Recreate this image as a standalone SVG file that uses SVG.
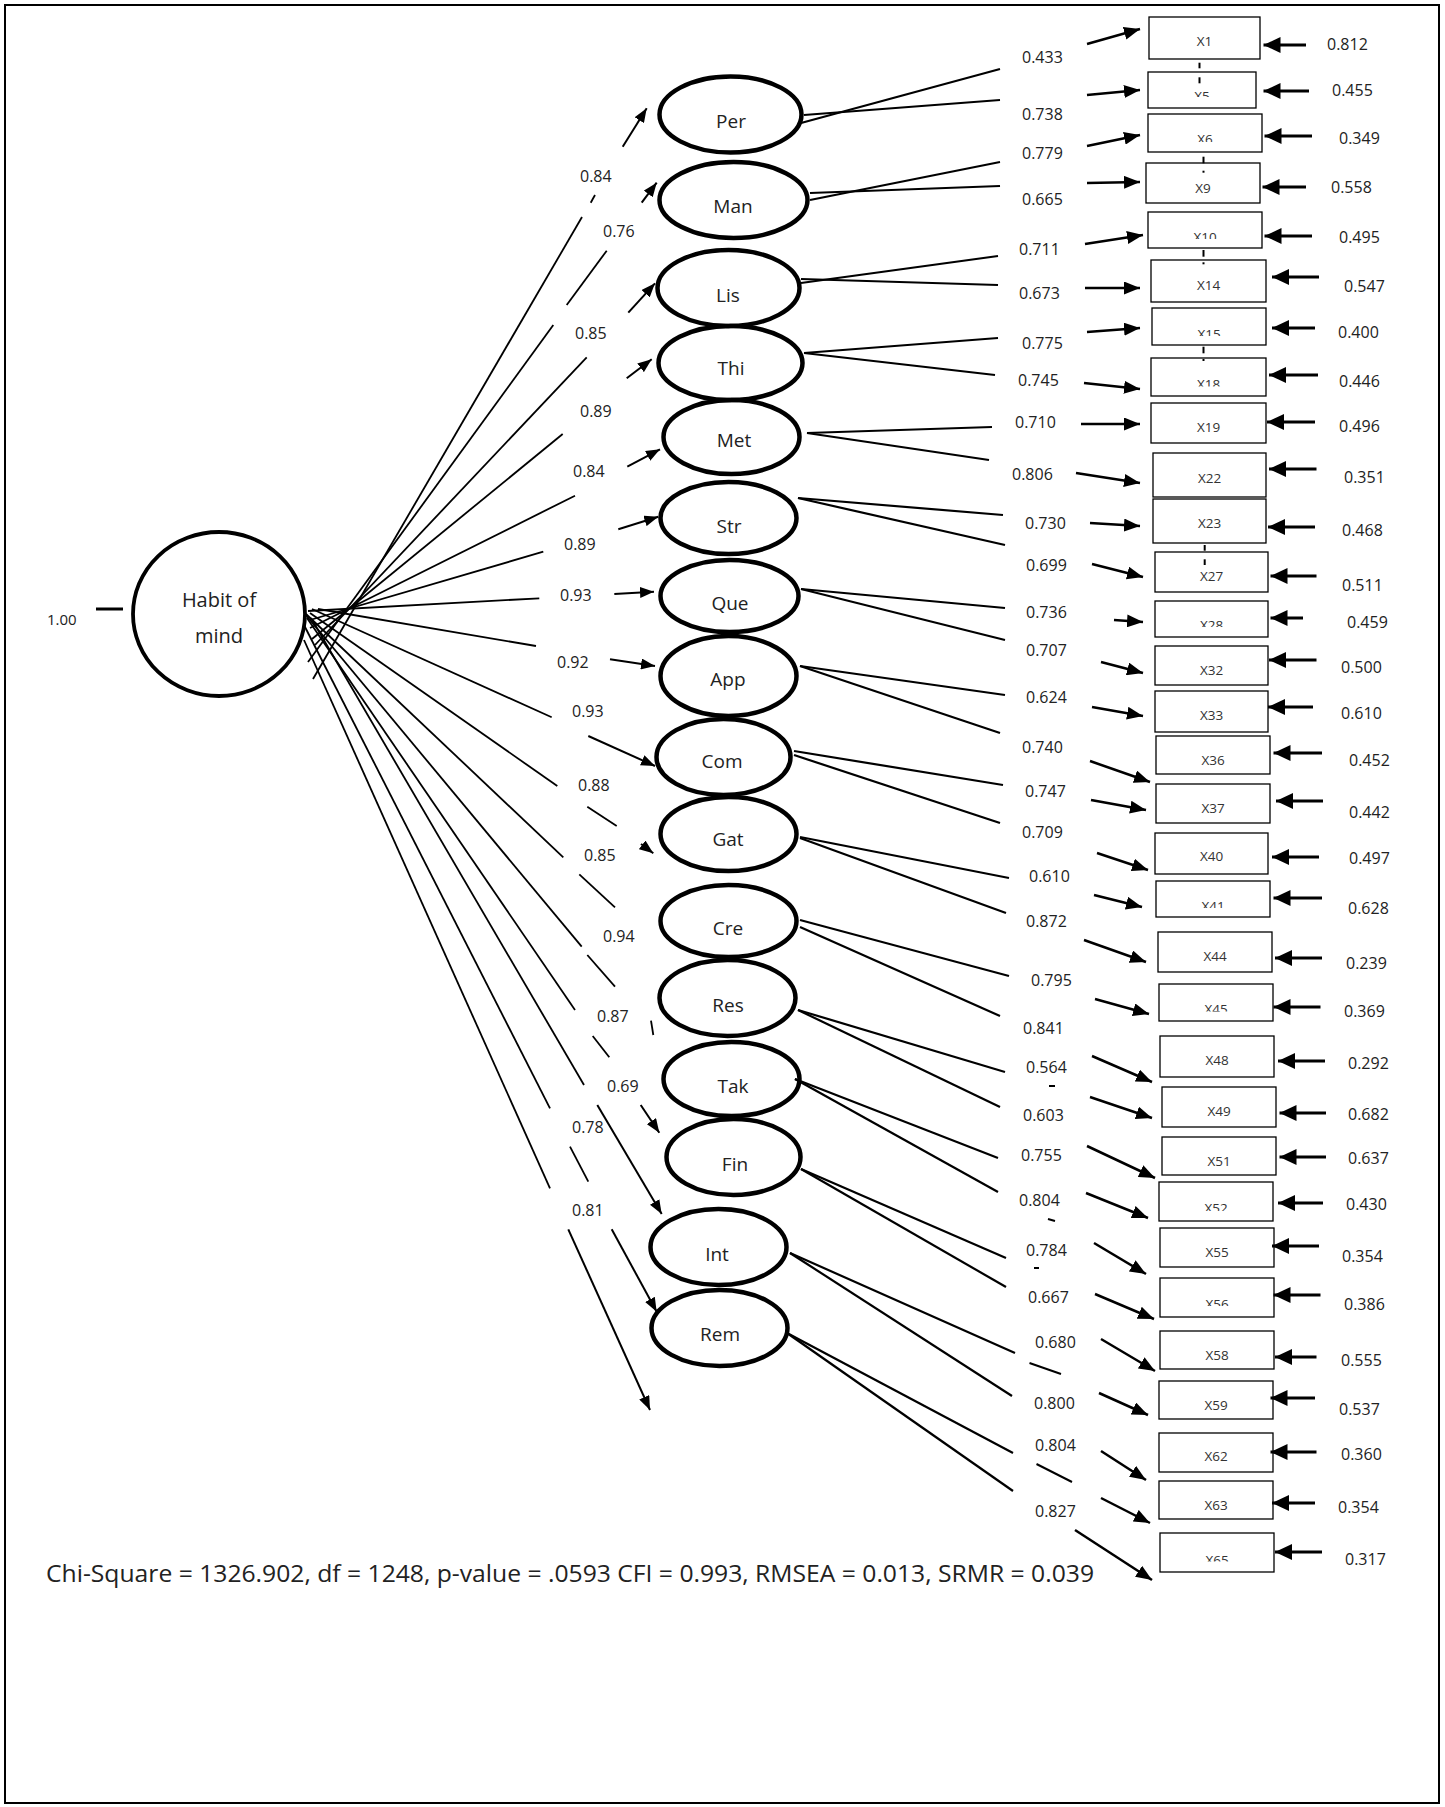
<svg xmlns="http://www.w3.org/2000/svg" width="1445" height="1807" viewBox="0 0 1445 1807">
<style>
text{font-family:"Open Sans","Liberation Sans",sans-serif;fill:#222}
.lat{fill:none;stroke:#000;stroke-width:4.5}
.hab{fill:none;stroke:#000;stroke-width:3.8}
.box{fill:none;stroke:#000;stroke-width:1.3}
.fan{stroke:#000;stroke-width:1.8;fill:none}
.ld{stroke:#000;stroke-width:2.2}
.fa{stroke:#000;stroke-width:2;marker-end:url(#a1)}
.ba{stroke:#000;stroke-width:2.5;marker-end:url(#a2)}
.er{stroke:#000;stroke-width:3;marker-end:url(#a3)}
.dsh{stroke:#000;stroke-width:2}
.ln{font-size:19px;text-anchor:middle}
.bl{font-size:13.5px;text-anchor:middle;fill:#333}
.v{font-size:16px}
</style>
<defs>
<marker id="a1" markerUnits="userSpaceOnUse" markerWidth="14" markerHeight="11" refX="14" refY="5.5" orient="auto"><path d="M0,0 L14,5.5 L0,11 z" fill="#000"/></marker>
<marker id="a2" markerUnits="userSpaceOnUse" markerWidth="16" markerHeight="13" refX="16" refY="6.5" orient="auto"><path d="M0,0 L16,6.5 L0,13 z" fill="#000"/></marker>
<marker id="a3" markerUnits="userSpaceOnUse" markerWidth="17" markerHeight="16" refX="17" refY="8" orient="auto"><path d="M0,0 L17,8 L0,16 z" fill="#000"/></marker>
<clipPath id="c5"><rect x="1148" y="72" width="108" height="25"/></clipPath>
<clipPath id="c6"><rect x="1148" y="114" width="114" height="28"/></clipPath>
<clipPath id="c10"><rect x="1148" y="212" width="114" height="27"/></clipPath>
<clipPath id="c15"><rect x="1152" y="308" width="114" height="28"/></clipPath>
<clipPath id="c18"><rect x="1151" y="358" width="115" height="28.5"/></clipPath>
<clipPath id="c28"><rect x="1155" y="601" width="113" height="26"/></clipPath>
<clipPath id="c41"><rect x="1156" y="881" width="114" height="27"/></clipPath>
<clipPath id="c45"><rect x="1159" y="984" width="114" height="27.5"/></clipPath>
<clipPath id="c52"><rect x="1159" y="1182" width="114" height="29"/></clipPath>
<clipPath id="c56"><rect x="1160" y="1278" width="114" height="28"/></clipPath>
<clipPath id="c65"><rect x="1160" y="1533" width="114" height="28.5"/></clipPath>
</defs>
<rect x="5" y="5" width="1434" height="1798" fill="none" stroke="#000" stroke-width="2"/>

<g id="connectors">
<line class="fan" x1="313" y1="679" x2="582" y2="217"/>
<line class="fan" x1="590.7" y1="202.7" x2="595" y2="195"/>
<line class="fa" x1="622.7" y1="146.7" x2="646.7" y2="108.3"/>
<line class="fan" x1="308" y1="662" x2="553.3" y2="325"/>
<line class="fan" x1="566.7" y1="305" x2="606.7" y2="250.7"/>
<line class="fa" x1="641.7" y1="202.7" x2="656.7" y2="182.7"/>
<line class="fan" x1="315" y1="645" x2="586.7" y2="357.3"/>
<line class="fa" x1="628.3" y1="312.7" x2="655" y2="283.3"/>
<line class="fan" x1="312" y1="639" x2="562.7" y2="434"/>
<line class="fa" x1="626.7" y1="378.3" x2="651.7" y2="359.3"/>
<line class="fan" x1="310" y1="628" x2="575" y2="495.7"/>
<line class="fa" x1="627.3" y1="466.7" x2="660" y2="449.3"/>
<line class="fan" x1="310" y1="620" x2="543.3" y2="551.7"/>
<line class="fa" x1="618.3" y1="529.3" x2="658.3" y2="516.7"/>
<line class="fan" x1="308" y1="611" x2="539.3" y2="598.3"/>
<line class="fa" x1="614.3" y1="594" x2="654" y2="591.7"/>
<line class="fan" x1="318" y1="609" x2="536" y2="646"/>
<line class="fa" x1="610" y1="659.3" x2="655" y2="666"/>
<line class="fan" x1="312" y1="609" x2="551.7" y2="717.3"/>
<line class="fa" x1="588.3" y1="736" x2="655" y2="766"/>
<line class="fan" x1="310" y1="613" x2="557.3" y2="786"/>
<line class="fan" x1="587.3" y1="806.7" x2="616.7" y2="826"/>
<line class="fa" x1="641" y1="844" x2="653.3" y2="853.3"/>
<line class="fan" x1="306" y1="614" x2="563.3" y2="857.3"/>
<line class="fan" x1="579.3" y1="874.3" x2="615" y2="907.3"/>
<line class="fan" x1="305" y1="614" x2="581.7" y2="946.7"/>
<line class="fan" x1="587.3" y1="955" x2="615" y2="986.7"/>
<line class="fan" x1="307" y1="618" x2="575" y2="1010"/>
<line class="fan" x1="592.7" y1="1036" x2="609.3" y2="1057.3"/>
<line class="fa" x1="640.7" y1="1105" x2="659.3" y2="1132.7"/>
<line class="fan" x1="651" y1="1020.7" x2="653.3" y2="1035"/>
<line class="fan" x1="311" y1="618" x2="584" y2="1085"/>
<line class="fa" x1="597.3" y1="1105" x2="661.7" y2="1214"/>
<line class="fan" x1="304" y1="625" x2="550" y2="1108.3"/>
<line class="fan" x1="570" y1="1146.7" x2="588.3" y2="1181.7"/>
<line class="fa" x1="611.7" y1="1229.3" x2="656.7" y2="1311.7"/>
<line class="fan" x1="304" y1="640" x2="550" y2="1188.3"/>
<line class="fa" x1="568.3" y1="1229.3" x2="650" y2="1410"/>
<line x1="96" y1="609" x2="123" y2="609" stroke="#000" stroke-width="3"/>
<line class="ld" x1="801" y1="123" x2="1000" y2="69"/>
<line class="ld" x1="804" y1="115" x2="1000" y2="100"/>
<line class="ld" x1="810" y1="200" x2="1000" y2="162"/>
<line class="ld" x1="810" y1="193" x2="1000" y2="186"/>
<line class="ld" x1="801" y1="283" x2="998" y2="256"/>
<line class="ld" x1="801" y1="279" x2="998" y2="285"/>
<line class="ld" x1="804" y1="353" x2="998" y2="338"/>
<line class="ld" x1="804" y1="353" x2="995" y2="375"/>
<line class="ld" x1="807" y1="433" x2="992" y2="427"/>
<line class="ld" x1="807" y1="433" x2="989" y2="460"/>
<line class="ld" x1="798" y1="498" x2="1003" y2="515"/>
<line class="ld" x1="798" y1="498" x2="1005" y2="545"/>
<line class="ld" x1="801" y1="589" x2="1005" y2="608"/>
<line class="ld" x1="801" y1="589" x2="1005" y2="640"/>
<line class="ld" x1="800" y1="666" x2="1005" y2="695"/>
<line class="ld" x1="800" y1="666" x2="1000" y2="733"/>
<line class="ld" x1="794" y1="751" x2="1003" y2="785"/>
<line class="ld" x1="794" y1="755" x2="1000" y2="823"/>
<line class="ld" x1="800" y1="837" x2="1009" y2="878"/>
<line class="ld" x1="800" y1="838" x2="1006" y2="913"/>
<line class="ld" x1="800" y1="920" x2="1009" y2="976"/>
<line class="ld" x1="800" y1="927" x2="1000" y2="1016"/>
<line class="ld" x1="798" y1="1010" x2="1005" y2="1072"/>
<line class="ld" x1="798" y1="1010" x2="1000" y2="1107"/>
<line class="ld" x1="795" y1="1079" x2="998" y2="1158"/>
<line class="ld" x1="795" y1="1079" x2="998" y2="1192"/>
<line class="ld" x1="801" y1="1169" x2="1006" y2="1258"/>
<line class="ld" x1="801" y1="1169" x2="1006" y2="1287"/>
<line class="ld" x1="790" y1="1253" x2="1015" y2="1353"/>
<line class="ld" x1="790" y1="1253" x2="1012" y2="1396"/>
<line class="ld" x1="787" y1="1333" x2="1013" y2="1453"/>
<line class="ld" x1="787" y1="1333" x2="1013" y2="1491"/>
<line class="dsh" x1="1049" y1="1086" x2="1055" y2="1086"/>
<line class="dsh" x1="1048" y1="1219" x2="1055" y2="1221"/>
<line class="dsh" x1="1034" y1="1268" x2="1039" y2="1268"/>
<line class="dsh" x1="1029.5" y1="1363" x2="1061" y2="1374"/>
<line class="dsh" x1="1036.5" y1="1464" x2="1072" y2="1482"/>
<line class="ba" x1="1087" y1="44" x2="1140" y2="29"/>
<line class="ba" x1="1087" y1="95" x2="1140" y2="90"/>
<line class="ba" x1="1087" y1="146" x2="1140" y2="135"/>
<line class="ba" x1="1087" y1="183" x2="1140" y2="182"/>
<line class="ba" x1="1085" y1="244" x2="1143" y2="235"/>
<line class="ba" x1="1085" y1="288" x2="1140" y2="288"/>
<line class="ba" x1="1087" y1="332" x2="1140" y2="328"/>
<line class="ba" x1="1084" y1="383" x2="1140" y2="389"/>
<line class="ba" x1="1081" y1="424" x2="1140" y2="424"/>
<line class="ba" x1="1076" y1="473" x2="1140" y2="483"/>
<line class="ba" x1="1090" y1="523" x2="1140" y2="526"/>
<line class="ba" x1="1092" y1="564" x2="1143" y2="577"/>
<line class="ba" x1="1114" y1="620" x2="1143" y2="622"/>
<line class="ba" x1="1101" y1="662" x2="1143" y2="673"/>
<line class="ba" x1="1092" y1="707" x2="1143" y2="716"/>
<line class="ba" x1="1090" y1="761" x2="1150" y2="782"/>
<line class="ba" x1="1091" y1="800" x2="1146" y2="810"/>
<line class="ba" x1="1097" y1="853" x2="1148" y2="870"/>
<line class="ba" x1="1094" y1="895" x2="1142" y2="907"/>
<line class="ba" x1="1084" y1="940" x2="1146" y2="962"/>
<line class="ba" x1="1095" y1="999" x2="1149" y2="1014"/>
<line class="ba" x1="1092" y1="1056" x2="1152" y2="1082"/>
<line class="ba" x1="1090" y1="1097" x2="1152" y2="1118"/>
<line class="ba" x1="1087" y1="1146" x2="1155" y2="1178"/>
<line class="ba" x1="1086" y1="1193" x2="1148" y2="1218"/>
<line class="ba" x1="1094" y1="1243" x2="1146" y2="1274"/>
<line class="ba" x1="1095" y1="1294" x2="1154" y2="1319"/>
<line class="ba" x1="1101" y1="1339" x2="1155" y2="1371"/>
<line class="ba" x1="1099" y1="1393" x2="1148" y2="1415"/>
<line class="ba" x1="1101" y1="1451" x2="1146" y2="1480"/>
<line class="ba" x1="1101" y1="1498" x2="1150" y2="1523"/>
<line class="ba" x1="1075" y1="1530" x2="1152" y2="1580"/>
<line class="er" x1="1306" y1="45" x2="1263.5" y2="45"/>
<line class="er" x1="1309" y1="91" x2="1263.5" y2="91"/>
<line class="er" x1="1312" y1="136" x2="1264.5" y2="136"/>
<line class="er" x1="1306" y1="187" x2="1262.5" y2="187"/>
<line class="er" x1="1312" y1="236" x2="1264.5" y2="236"/>
<line class="er" x1="1319" y1="277" x2="1272" y2="277"/>
<line class="er" x1="1315" y1="328" x2="1272" y2="328"/>
<line class="er" x1="1318" y1="375" x2="1269" y2="375"/>
<line class="er" x1="1315" y1="422" x2="1267" y2="422"/>
<line class="er" x1="1316.5" y1="469" x2="1269" y2="469"/>
<line class="er" x1="1315" y1="527" x2="1268" y2="527"/>
<line class="er" x1="1316.5" y1="576" x2="1270.5" y2="576"/>
<line class="er" x1="1303" y1="618" x2="1270.5" y2="618"/>
<line class="er" x1="1316.5" y1="660" x2="1269" y2="660"/>
<line class="er" x1="1313" y1="707" x2="1268" y2="707"/>
<line class="er" x1="1322" y1="753" x2="1273.5" y2="753"/>
<line class="er" x1="1323" y1="801" x2="1276" y2="801"/>
<line class="er" x1="1319" y1="857" x2="1272" y2="857"/>
<line class="er" x1="1322" y1="898" x2="1273.5" y2="898"/>
<line class="er" x1="1322" y1="958" x2="1275" y2="958"/>
<line class="er" x1="1320.5" y1="1007" x2="1273.5" y2="1007"/>
<line class="er" x1="1325" y1="1061" x2="1278" y2="1061"/>
<line class="er" x1="1326" y1="1113" x2="1279.5" y2="1113"/>
<line class="er" x1="1326" y1="1157" x2="1279.5" y2="1157"/>
<line class="er" x1="1323" y1="1203" x2="1278" y2="1203"/>
<line class="er" x1="1319" y1="1246" x2="1272" y2="1246"/>
<line class="er" x1="1320.5" y1="1295" x2="1273.5" y2="1295"/>
<line class="er" x1="1316.5" y1="1357" x2="1275" y2="1357"/>
<line class="er" x1="1315" y1="1398" x2="1270.5" y2="1398"/>
<line class="er" x1="1316.5" y1="1452" x2="1270.5" y2="1452"/>
<line class="er" x1="1315" y1="1503" x2="1272" y2="1503"/>
<line class="er" x1="1322" y1="1552" x2="1275" y2="1552"/>
<line class="dsh" x1="1199.5" y1="62.7" x2="1199.5" y2="68.3"/>
<line class="dsh" x1="1199.5" y1="77.3" x2="1199.5" y2="83.3"/>
<line class="dsh" x1="1203.5" y1="156.7" x2="1203.5" y2="163.3"/>
<line class="dsh" x1="1203.5" y1="170.7" x2="1203.5" y2="172.7"/>
<line class="dsh" x1="1203.5" y1="250" x2="1203.5" y2="256.7"/>
<line class="dsh" x1="1203.5" y1="262.3" x2="1203.5" y2="264.3"/>
<line class="dsh" x1="1203.5" y1="346.7" x2="1203.5" y2="353.3"/>
<line class="dsh" x1="1203.5" y1="359" x2="1203.5" y2="361"/>
<line class="dsh" x1="1204.7" y1="545" x2="1204.7" y2="550.7"/>
<line class="dsh" x1="1204.7" y1="559.3" x2="1204.7" y2="565"/>
</g>

<g id="labels-paths">
<text class="v" x="580" y="182">0.84</text>
<text class="v" x="603" y="237">0.76</text>
<text class="v" x="575" y="339">0.85</text>
<text class="v" x="580" y="417">0.89</text>
<text class="v" x="573" y="477">0.84</text>
<text class="v" x="564" y="550">0.89</text>
<text class="v" x="560" y="601">0.93</text>
<text class="v" x="557" y="668">0.92</text>
<text class="v" x="572" y="717">0.93</text>
<text class="v" x="578" y="791">0.88</text>
<text class="v" x="584" y="861">0.85</text>
<text class="v" x="603" y="942">0.94</text>
<text class="v" x="597" y="1022">0.87</text>
<text class="v" x="607" y="1092">0.69</text>
<text class="v" x="572" y="1133">0.78</text>
<text class="v" x="572" y="1216">0.81</text>
<text x="47" y="625" style="font-size:15px">1.00</text>
</g>

<g id="labels-loadings">
<text class="v" x="1022" y="63">0.433</text>
<text class="v" x="1022" y="120">0.738</text>
<text class="v" x="1022" y="159">0.779</text>
<text class="v" x="1022" y="205">0.665</text>
<text class="v" x="1019" y="255">0.711</text>
<text class="v" x="1019" y="299">0.673</text>
<text class="v" x="1022" y="349">0.775</text>
<text class="v" x="1018" y="386">0.745</text>
<text class="v" x="1015" y="428">0.710</text>
<text class="v" x="1012" y="480">0.806</text>
<text class="v" x="1025" y="529">0.730</text>
<text class="v" x="1026" y="571">0.699</text>
<text class="v" x="1026" y="618">0.736</text>
<text class="v" x="1026" y="656">0.707</text>
<text class="v" x="1026" y="703">0.624</text>
<text class="v" x="1022" y="753">0.740</text>
<text class="v" x="1025" y="797">0.747</text>
<text class="v" x="1022" y="838">0.709</text>
<text class="v" x="1029" y="882">0.610</text>
<text class="v" x="1026" y="927">0.872</text>
<text class="v" x="1031" y="986">0.795</text>
<text class="v" x="1023" y="1034">0.841</text>
<text class="v" x="1026" y="1073">0.564</text>
<text class="v" x="1023" y="1121">0.603</text>
<text class="v" x="1021" y="1161">0.755</text>
<text class="v" x="1019" y="1206">0.804</text>
<text class="v" x="1026" y="1256">0.784</text>
<text class="v" x="1028" y="1303">0.667</text>
<text class="v" x="1035" y="1348">0.680</text>
<text class="v" x="1034" y="1409">0.800</text>
<text class="v" x="1035" y="1451">0.804</text>
<text class="v" x="1035" y="1517">0.827</text>
</g>

<g id="labels-errors">
<text class="v" x="1327" y="50">0.812</text>
<text class="v" x="1332" y="96">0.455</text>
<text class="v" x="1339" y="144">0.349</text>
<text class="v" x="1331" y="193">0.558</text>
<text class="v" x="1339" y="243">0.495</text>
<text class="v" x="1344" y="292">0.547</text>
<text class="v" x="1338" y="338">0.400</text>
<text class="v" x="1339" y="387">0.446</text>
<text class="v" x="1339" y="432">0.496</text>
<text class="v" x="1344" y="483">0.351</text>
<text class="v" x="1342" y="536">0.468</text>
<text class="v" x="1342" y="591">0.511</text>
<text class="v" x="1347" y="628">0.459</text>
<text class="v" x="1341" y="673">0.500</text>
<text class="v" x="1341" y="719">0.610</text>
<text class="v" x="1349" y="766">0.452</text>
<text class="v" x="1349" y="818">0.442</text>
<text class="v" x="1349" y="864">0.497</text>
<text class="v" x="1348" y="914">0.628</text>
<text class="v" x="1346" y="969">0.239</text>
<text class="v" x="1344" y="1017">0.369</text>
<text class="v" x="1348" y="1069">0.292</text>
<text class="v" x="1348" y="1120">0.682</text>
<text class="v" x="1348" y="1164">0.637</text>
<text class="v" x="1346" y="1210">0.430</text>
<text class="v" x="1342" y="1262">0.354</text>
<text class="v" x="1344" y="1310">0.386</text>
<text class="v" x="1341" y="1366">0.555</text>
<text class="v" x="1339" y="1415">0.537</text>
<text class="v" x="1341" y="1460">0.360</text>
<text class="v" x="1338" y="1513">0.354</text>
<text class="v" x="1345" y="1565">0.317</text>
</g>

<g id="habit"><ellipse class="hab" cx="219" cy="614" rx="86" ry="82"/><text class="ln" x="219" y="607" style="font-size:20px">Habit of</text><text class="ln" x="219" y="643" style="font-size:20px">mind</text></g>
<g id="Per"><ellipse class="lat" cx="730.5" cy="114.5" rx="71" ry="38"/><text class="ln" x="731" y="128">Per</text></g>
<g id="Man"><ellipse class="lat" cx="733.5" cy="200" rx="74" ry="38"/><text class="ln" x="733" y="213">Man</text></g>
<g id="Lis"><ellipse class="lat" cx="728.5" cy="288" rx="71" ry="38"/><text class="ln" x="728" y="302">Lis</text></g>
<g id="Thi"><ellipse class="lat" cx="730.5" cy="363" rx="72" ry="37"/><text class="ln" x="731" y="375">Thi</text></g>
<g id="Met"><ellipse class="lat" cx="731.5" cy="437" rx="68" ry="37"/><text class="ln" x="734" y="447">Met</text></g>
<g id="Str"><ellipse class="lat" cx="728.5" cy="518" rx="68" ry="36"/><text class="ln" x="729" y="533">Str</text></g>
<g id="Que"><ellipse class="lat" cx="729.5" cy="596" rx="69" ry="36"/><text class="ln" x="730" y="610">Que</text></g>
<g id="App"><ellipse class="lat" cx="728.5" cy="676" rx="68" ry="40"/><text class="ln" x="728" y="686">App</text></g>
<g id="Com"><ellipse class="lat" cx="723.5" cy="757" rx="67" ry="38"/><text class="ln" x="722" y="768">Com</text></g>
<g id="Gat"><ellipse class="lat" cx="728.5" cy="834" rx="68" ry="37"/><text class="ln" x="728" y="846">Gat</text></g>
<g id="Cre"><ellipse class="lat" cx="728.5" cy="921" rx="68" ry="36"/><text class="ln" x="728" y="935">Cre</text></g>
<g id="Res"><ellipse class="lat" cx="727.5" cy="998" rx="68" ry="38"/><text class="ln" x="728" y="1012">Res</text></g>
<g id="Tak"><ellipse class="lat" cx="731.5" cy="1079" rx="68" ry="37"/><text class="ln" x="733" y="1093">Tak</text></g>
<g id="Fin"><ellipse class="lat" cx="733.5" cy="1157" rx="67" ry="38"/><text class="ln" x="735" y="1171">Fin</text></g>
<g id="Int"><ellipse class="lat" cx="718.5" cy="1247" rx="68" ry="38"/><text class="ln" x="717" y="1261">Int</text></g>
<g id="Rem"><ellipse class="lat" cx="719.5" cy="1328" rx="68" ry="38"/><text class="ln" x="720" y="1341">Rem</text></g>

<g id="X1"><rect class="box" x="1149" y="17" width="111" height="42"/><text class="bl" x="1204.5" y="46">X1</text></g>
<g id="X5"><rect class="box" x="1148" y="72" width="108" height="36"/><text class="bl" x="1202" y="101" clip-path="url(#c5)">X5</text></g>
<g id="X6"><rect class="box" x="1148" y="114" width="114" height="38"/><text class="bl" x="1205" y="144" clip-path="url(#c6)">X6</text></g>
<g id="X9"><rect class="box" x="1146" y="163" width="114" height="40"/><text class="bl" x="1203" y="193">X9</text></g>
<g id="X10"><rect class="box" x="1148" y="212" width="114" height="36"/><text class="bl" x="1205" y="242" clip-path="url(#c10)">X10</text></g>
<g id="X14"><rect class="box" x="1151" y="260" width="115" height="42"/><text class="bl" x="1208.5" y="290">X14</text></g>
<g id="X15"><rect class="box" x="1152" y="308" width="114" height="37"/><text class="bl" x="1209" y="339" clip-path="url(#c15)">X15</text></g>
<g id="X18"><rect class="box" x="1151" y="358" width="115" height="38"/><text class="bl" x="1208.5" y="389" clip-path="url(#c18)">X18</text></g>
<g id="X19"><rect class="box" x="1151" y="403" width="115" height="40"/><text class="bl" x="1208.5" y="432">X19</text></g>
<g id="X22"><rect class="box" x="1153" y="453" width="113" height="44"/><text class="bl" x="1209.5" y="483">X22</text></g>
<g id="X23"><rect class="box" x="1153" y="499" width="113" height="44"/><text class="bl" x="1209.5" y="528">X23</text></g>
<g id="X27"><rect class="box" x="1155" y="552" width="113" height="40"/><text class="bl" x="1211.5" y="581">X27</text></g>
<g id="X28"><rect class="box" x="1155" y="601" width="113" height="36"/><text class="bl" x="1211.5" y="630" clip-path="url(#c28)">X28</text></g>
<g id="X32"><rect class="box" x="1155" y="646" width="113" height="39"/><text class="bl" x="1211.5" y="675">X32</text></g>
<g id="X33"><rect class="box" x="1155" y="691" width="113" height="41"/><text class="bl" x="1211.5" y="720">X33</text></g>
<g id="X36"><rect class="box" x="1156" y="736" width="114" height="38"/><text class="bl" x="1213" y="765">X36</text></g>
<g id="X37"><rect class="box" x="1156" y="784" width="114" height="39"/><text class="bl" x="1213" y="813">X37</text></g>
<g id="X40"><rect class="box" x="1155" y="833" width="113" height="41"/><text class="bl" x="1211.5" y="861">X40</text></g>
<g id="X41"><rect class="box" x="1156" y="881" width="114" height="36"/><text class="bl" x="1213" y="911" clip-path="url(#c41)">X41</text></g>
<g id="X44"><rect class="box" x="1158" y="932" width="114" height="40"/><text class="bl" x="1215" y="961">X44</text></g>
<g id="X45"><rect class="box" x="1159" y="984" width="114" height="37"/><text class="bl" x="1216" y="1014" clip-path="url(#c45)">X45</text></g>
<g id="X48"><rect class="box" x="1160" y="1036" width="114" height="41"/><text class="bl" x="1217" y="1065">X48</text></g>
<g id="X49"><rect class="box" x="1162" y="1087" width="114" height="40"/><text class="bl" x="1219" y="1116">X49</text></g>
<g id="X51"><rect class="box" x="1162" y="1137" width="114" height="38"/><text class="bl" x="1219" y="1166">X51</text></g>
<g id="X52"><rect class="box" x="1159" y="1182" width="114" height="39"/><text class="bl" x="1216" y="1213" clip-path="url(#c52)">X52</text></g>
<g id="X55"><rect class="box" x="1160" y="1228" width="114" height="39"/><text class="bl" x="1217" y="1257">X55</text></g>
<g id="X56"><rect class="box" x="1160" y="1278" width="114" height="39"/><text class="bl" x="1217" y="1309" clip-path="url(#c56)">X56</text></g>
<g id="X58"><rect class="box" x="1160" y="1331" width="114" height="38"/><text class="bl" x="1217" y="1360">X58</text></g>
<g id="X59"><rect class="box" x="1159" y="1381" width="114" height="38"/><text class="bl" x="1216" y="1410">X59</text></g>
<g id="X62"><rect class="box" x="1159" y="1433" width="114" height="39"/><text class="bl" x="1216" y="1461">X62</text></g>
<g id="X63"><rect class="box" x="1159" y="1481" width="114" height="38"/><text class="bl" x="1216" y="1510">X63</text></g>
<g id="X65"><rect class="box" x="1160" y="1533" width="114" height="39"/><text class="bl" x="1217" y="1565" clip-path="url(#c65)">X65</text></g>

<text x="46" y="1582" style="font-size:23px" textLength="1048" lengthAdjust="spacingAndGlyphs">Chi-Square = 1326.902, df = 1248, p-value = .0593 CFI = 0.993, RMSEA = 0.013, SRMR = 0.039</text>
</svg>
